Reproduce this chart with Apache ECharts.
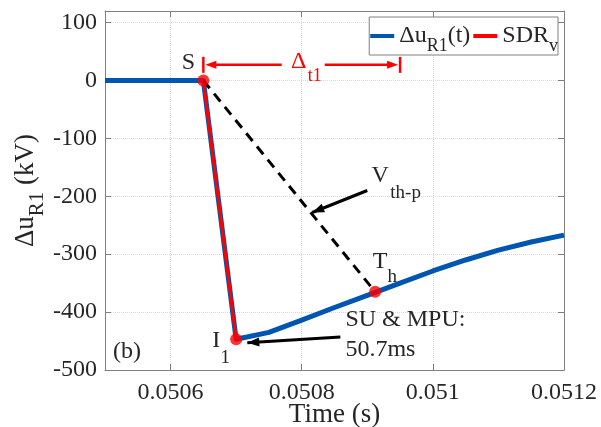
<!DOCTYPE html>
<html lang="en">
<head>
<meta charset="UTF-8">
<title>Δu R1</title>
<script src="https://cdn.jsdelivr.net/npm/echarts@6/dist/echarts.min.js"></script>
<style>
  html, body { margin: 0; padding: 0; background: #fff; }
  #main { width: 601px; height: 427px; }
</style>
</head>
<body>
<div id="main"></div>
<script>
// data
var timeS = [0.0505, 0.0506, 0.05065, 0.0507, 0.05075, 0.0508, 0.05085, 0.0509, 0.05095, 0.051, 0.05105, 0.0511, 0.05115, 0.0512];
var duR1  = [0, 0, 0, -447, -435, -414, -392, -371, -350, -329, -310, -293, -279, -267];

var sdrTime = [0.05065, 0.0507];     // S -> I1
var sdrVal  = [0, -447];
var thTime = 0.050912;               // T_h
var thVal  = -365;

var xTicks = [0.0506, 0.0508, 0.051, 0.0512];
var yTicks = [-500, -400, -300, -200, -100, 0, 100];

// annotation anchors (data coords)
var deltaSpan = [0.05065, 0.05095];
var deltaLevel = 27;
var vthArrow = [[0.0509, -190], [0.050816, -228]];
var suArrow  = [[0.050859, -443], [0.050717, -453]];

var FONT = '"Liberation Serif", "Times New Roman", serif';
var TXT = '#262626';

function zip(a, b) {
    var out = [];
    for (var i = 0; i < a.length; i++) out.push([a[i], b[i]]);
    return out;
}

var gridAxisLine = { show: true, onZero: false, lineStyle: { color: '#808080', width: 1 } };

var option = {
    animation: false,
    backgroundColor: '#fff',
    textStyle: { fontFamily: FONT },
    grid: { left: 105, right: 37, top: 11, bottom: 57, outerBoundsMode: 'none', containLabel: false },
    legend: {
        right: 43, top: 17,
        data: [{ name: 'Δu_R1(t)', icon: 'rect' }, { name: 'SDR_v', icon: 'rect' }],
        itemWidth: 24, itemHeight: 4, itemGap: 3,
        padding: [0, 0, 0, 1],
        borderColor: '#808080', borderWidth: 1, backgroundColor: '#fff',
        formatter: function (name) {
            return name === 'SDR_v' ? '{m|SDR}{s|v}' : '{m|Δu}{s|R1}{m|(t)}';
        },
        textStyle: {
            fontFamily: FONT, color: TXT,
            rich: {
                m: { fontFamily: FONT, fontSize: 24, lineHeight: 26, color: TXT },
                s: { fontFamily: FONT, fontSize: 18, lineHeight: 18, color: TXT, padding: [20, 0, 0, 0] }
            }
        }
    },
    xAxis: [{
        type: 'value', min: 0.0505, max: 0.0512,
        name: 'Time (s)', nameLocation: 'middle', nameGap: 31, nameMoveOverlap: false,
        nameTextStyle: { fontFamily: FONT, fontSize: 27, color: TXT },
        axisLine: gridAxisLine,
        axisTick: { inside: true, length: 6, customValues: xTicks, lineStyle: { color: '#808080' } },
        axisLabel: { customValues: xTicks, margin: 11, fontFamily: FONT, fontSize: 24, color: TXT,
                     formatter: function (v) { return String(+(+v).toFixed(5)); } },
        splitLine: { show: true, lineStyle: { color: '#d9d9d9', type: 'dotted', width: 1 } }
    }, {
        type: 'value', min: 0.0505, max: 0.0512, position: 'top',
        axisLine: gridAxisLine,
        axisTick: { inside: true, length: 6, customValues: xTicks, lineStyle: { color: '#808080' } },
        axisLabel: { show: false }, splitLine: { show: false }
    }],
    yAxis: [{
        type: 'value', min: -500, max: 120,
        name: '{m|Δu}{s|R1}{m| (kV)}', nameLocation: 'middle', nameGap: 65, nameMoveOverlap: false,
        nameTextStyle: {
            fontFamily: FONT, color: TXT,
            rich: {
                m: { fontFamily: FONT, fontSize: 27, lineHeight: 28, color: TXT },
                s: { fontFamily: FONT, fontSize: 21, lineHeight: 20, color: TXT, padding: [22, 0, 0, 0] }
            }
        },
        axisLine: gridAxisLine,
        axisTick: { inside: true, length: 6, customValues: yTicks, lineStyle: { color: '#808080' } },
        axisLabel: { customValues: yTicks, margin: 8, fontFamily: FONT, fontSize: 24, color: TXT },
        splitLine: { show: true, lineStyle: { color: '#d9d9d9', type: 'dotted', width: 1 } }
    }, {
        type: 'value', min: -500, max: 120, position: 'right',
        axisLine: gridAxisLine,
        axisTick: { inside: true, length: 6, customValues: yTicks, lineStyle: { color: '#808080' } },
        axisLabel: { show: false }, splitLine: { show: false }
    }],
    series: [{
        name: 'Δu_R1(t)', type: 'line', data: zip(timeS, duR1),
        showSymbol: false, color: '#0055b0',
        lineStyle: { width: 5, color: '#0055b0', join: 'round' }, z: 2
    }, {
        name: 'SDR_v', type: 'line', data: zip(sdrTime, sdrVal),
        showSymbol: false, color: '#ff0000',
        lineStyle: { width: 3, color: '#ff0000' }, z: 3
    }, {
        name: 'Vth-p', type: 'line', data: [[sdrTime[0], sdrVal[0]], [thTime, thVal]],
        showSymbol: false,
        lineStyle: { width: 3, color: '#000', type: [10, 7] }, z: 4
    }, {
        name: 'points', type: 'scatter',
        data: [[sdrTime[0], sdrVal[0]], [sdrTime[1], sdrVal[1]], [thTime, thVal]],
        symbolSize: 12, itemStyle: { color: '#ff0000' }, z: 5
    }]
};

var chart = echarts.init(document.getElementById('main'));
chart.setOption(option);

function px(t, v) { return chart.convertToPixel({ gridIndex: 0 }, [t, v]); }

function arrowHead(tip, from, len, half, color) {
    var dx = tip[0] - from[0], dy = tip[1] - from[1];
    var d = Math.sqrt(dx * dx + dy * dy);
    var ux = dx / d, uy = dy / d;
    var bx = tip[0] - ux * len, by = tip[1] - uy * len;
    return {
        type: 'polygon',
        shape: { points: [tip, [bx - uy * half, by + ux * half], [bx + uy * half, by - ux * half]] },
        style: { fill: color }, z: 10
    };
}
function seg(a, b, color, w) {
    return { type: 'line', shape: { x1: a[0], y1: a[1], x2: b[0], y2: b[1] },
             style: { stroke: color, lineWidth: w }, z: 10 };
}
function txt(x, y, s, size, color, align) {
    return { type: 'text', x: x, y: y, z: 11,
             style: { text: s, font: size + 'px ' + FONT, fontFamily: FONT, fontSize: size, fill: color || TXT,
                      align: align || 'center', verticalAlign: 'middle' } };
}

var S = px(sdrTime[0], sdrVal[0]);
var I1 = px(sdrTime[1], sdrVal[1]);
var TH = px(thTime, thVal);
var dL = px(deltaSpan[0], deltaLevel), dR = px(deltaSpan[1], deltaLevel);
var va = px(vthArrow[0][0], vthArrow[0][1]), vb = px(vthArrow[1][0], vthArrow[1][1]);
var sa = px(suArrow[0][0], suArrow[0][1]), sb = px(suArrow[1][0], suArrow[1][1]);
var corner = px(0.0505, -500);
var RED = '#ff0000';
var midX = (dL[0] + dR[0]) / 2;

var g = [
    txt(S[0] - 15, S[1] - 18, 'S', 24),
    // delta t1 span
    seg([dL[0], dL[1] - 8], [dL[0], dL[1] + 8], RED, 2.5),
    seg([dR[0], dR[1] - 8], [dR[0], dR[1] + 8], RED, 2.5),
    seg([dL[0] + 10, dL[1]], [midX - 20, dL[1]], RED, 2.5),
    arrowHead([dL[0] + 2, dL[1]], [dL[0] + 20, dL[1]], 11, 4, RED),
    seg([midX + 23, dR[1]], [dR[0] - 10, dR[1]], RED, 2.5),
    arrowHead([dR[0] - 2, dR[1]], [dR[0] - 20, dR[1]], 11, 4, RED),
    txt(midX - 3, dL[1] - 3, 'Δ', 24, RED),
    txt(midX + 13, dL[1] + 11, 't1', 18, RED),
    // V th-p
    seg(va, vb, '#000', 3),
    arrowHead(vb, va, 12, 4.5, '#000'),
    txt(va[0] + 13, va[1] - 15, 'V', 24),
    txt(va[0] + 23, va[1] + 3, 'th-p', 19, TXT, 'left'),
    // T h
    txt(TH[0] + 5, TH[1] - 30, 'T', 24),
    txt(TH[0] + 17, TH[1] - 15, 'h', 19),
    // I 1
    txt(I1[0] - 20, I1[1] + 1, 'I', 24),
    txt(I1[0] - 11, I1[1] + 19, '1', 19),
    // SU & MPU
    seg(sa, sb, '#000', 3),
    arrowHead(sb, sa, 12, 4.5, '#000'),
    txt(sa[0] + 5, sa[1] - 17, 'SU & MPU:', 24, TXT, 'left'),
    txt(sa[0] + 5, sa[1] + 13, '50.7ms', 24, TXT, 'left'),
    txt(corner[0] + 8, corner[1] - 18, '(b)', 24, TXT, 'left')
];
chart.setOption({ graphic: g });
</script>
</body>
</html>
